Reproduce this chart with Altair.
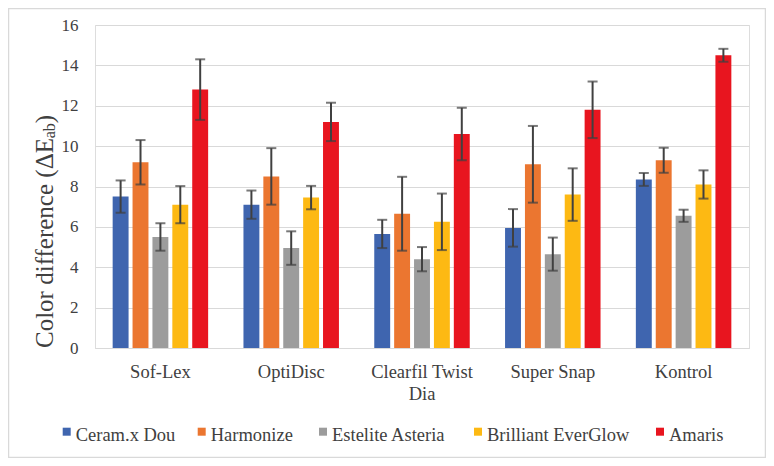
import altair as alt
import pandas as pd

methods = ["Sof-Lex", "OptiDisc", "Clearfil Twist Dia", "Super Snap", "Kontrol"]
materials = ["Ceram.x Dou", "Harmonize", "Estelite Asteria", "Brilliant EverGlow", "Amaris"]
colors = ["#3F65AF", "#EB7630", "#9C9C9C", "#FDB913", "#E8151F"]

ceram_mean = [7.5, 7.1, 5.65, 5.95, 8.35]
ceram_sd = [0.8, 0.7, 0.7, 0.93, 0.32]
harm_mean = [9.2, 8.5, 6.65, 9.1, 9.3]
harm_sd = [1.1, 1.4, 1.83, 1.9, 0.62]
est_mean = [5.5, 4.95, 4.4, 4.65, 6.55]
est_sd = [0.68, 0.83, 0.6, 0.82, 0.3]
bril_mean = [7.1, 7.45, 6.25, 7.6, 8.1]
bril_sd = [0.92, 0.58, 1.4, 1.3, 0.7]
amar_mean = [12.8, 11.2, 10.6, 11.8, 14.5]
amar_sd = [1.5, 0.95, 1.3, 1.4, 0.32]

means = [ceram_mean, harm_mean, est_mean, bril_mean, amar_mean]
sds = [ceram_sd, harm_sd, est_sd, bril_sd, amar_sd]

rows = []
for mat, mlist, slist in zip(materials, means, sds):
    for meth, m, s in zip(methods, mlist, slist):
        rows.append({"method": meth, "material": mat, "mean": m, "lo": m - s, "hi": m + s})
df = pd.DataFrame(rows)

FONT = "Liberation Serif"
TXT = "#404040"
W, H = 654, 323

x_enc = alt.X(
    "method:N", sort=methods,
    scale=alt.Scale(paddingInner=0.27, paddingOuter=0.135),
    axis=alt.Axis(
        title=None, labelAngle=0, ticks=False, domain=True, domainColor="#d9d9d9",
        labelFont=FONT, labelFontSize=18.5, labelColor=TXT, labelPadding=14,
        labelLineHeight=22, labelBaseline="top",
        labelExpr="datum.value == 'Clearfil Twist Dia' ? ['Clearfil Twist', 'Dia'] : datum.value",
    ),
)
xo_enc = alt.XOffset("material:N", sort=materials,
                     scale=alt.Scale(paddingInner=0.2, paddingOuter=0))

base = alt.Chart(df).encode(x=x_enc, xOffset=xo_enc)

bars = base.mark_bar().encode(
    y=alt.Y("mean:Q", scale=alt.Scale(domain=[0, 16]),
            axis=alt.Axis(title=None, values=list(range(0, 17, 2)), grid=True,
                          gridColor="#d9d9d9", domain=False, ticks=False,
                          labelFont=FONT, labelFontSize=17, labelColor=TXT,
                          labelPadding=17)),
    color=alt.Color("material:N", sort=materials,
                    scale=alt.Scale(domain=materials, range=colors),
                    legend=None),
)

rules = base.mark_rule(color="#404040", strokeWidth=2).encode(y="lo:Q", y2="hi:Q")
cap_lo = base.mark_tick(color="#404040", thickness=2, size=10, orient="horizontal").encode(y="lo:Q")
cap_hi = base.mark_tick(color="#404040", thickness=2, size=10, orient="horizontal").encode(y="hi:Q")

one = pd.DataFrame({"k": [0]})
title_main = alt.Chart(one).mark_text(
    text="Color difference (ΔE", font=FONT, fontSize=25, color=TXT,
    angle=270, align="left", baseline="middle",
).encode(x=alt.value(-50), y=alt.value(323))
title_sub = alt.Chart(one).mark_text(
    text="ab", font=FONT, fontSize=16, color=TXT,
    angle=270, align="left", baseline="middle",
).encode(x=alt.value(-45), y=alt.value(113.3))
title_close = alt.Chart(one).mark_text(
    text=")", font=FONT, fontSize=25, color=TXT,
    angle=270, align="left", baseline="middle",
).encode(x=alt.value(-50), y=alt.value(98.2))

# Legend drawn as guide marks (serif labels, as in the reference)
legend_left = [-32.3, 102.7, 224, 379, 561]
legend_layers = []
for name, col, lx in zip(materials, colors, legend_left):
    legend_layers.append(
        alt.Chart(one).mark_square(size=64, color=col, opacity=1)
        .encode(x=alt.value(lx + 4), y=alt.value(406.7))
    )
    legend_layers.append(
        alt.Chart(one).mark_text(text=name, font=FONT, fontSize=18.5, color=TXT,
                                 align="left", baseline="alphabetic")
        .encode(x=alt.value(lx + 13), y=alt.value(415.5))
    )

border = alt.Chart(one).mark_rect(fill=None, stroke="#d9d9d9", strokeWidth=1.5).encode(
    x=alt.value(-86.5), x2=alt.value(W + 16.5), y=alt.value(-16.5), y2=alt.value(H + 109.5)
)

chart = alt.layer(bars, rules, cap_lo, cap_hi, title_main, title_sub, title_close,
                  *legend_layers, border).properties(
    width=W, height=H,
    autosize=alt.AutoSizeParams(type="none"),
    padding={"left": 87, "top": 17, "right": 17, "bottom": 110},
).configure_view(strokeWidth=0).configure(background="white", font=FONT)

chart.save("out.html", embed_options={"renderer": "svg", "actions": False})
